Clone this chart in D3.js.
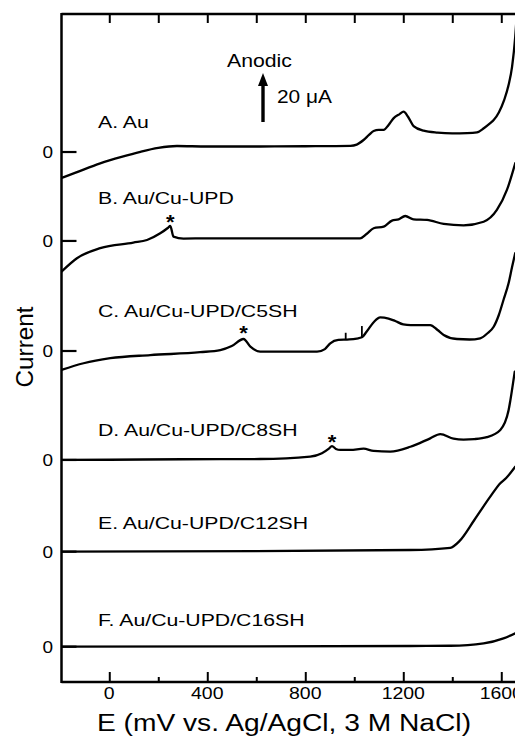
<!DOCTYPE html>
<html>
<head>
<meta charset="utf-8">
<script src="https://cdn.jsdelivr.net/npm/d3@7"></script>
<style>
  html, body { margin: 0; padding: 0; background: #fff; }
  svg { display: block; }
  text { font-family: "Liberation Sans", Arial, Helvetica, sans-serif; fill: #000; }
</style>
</head>
<body>
<div id="chart"></div>
<script>
// ---------------- DATA ----------------
const curveNames = ["A. Au", "B. Au/Cu-UPD", "C. Au/Cu-UPD/C5SH", "D. Au/Cu-UPD/C8SH", "E. Au/Cu-UPD/C12SH", "F. Au/Cu-UPD/C16SH"];
// zero-current level of each trace on the stacked current axis (µA)
const baselines = [220.8, 183.75, 137.9, 92.5, 54.3, 14.7];

// potentials (mV) and currents (µA, relative to each trace's zero)
const potA = [-195, -140, -37, 50, 127, 200, 276, 400, 616, 800, 984, 1010, 1038, 1060, 1079, 1100, 1120, 1140, 1160, 1185, 1201, 1220, 1242, 1283, 1340, 1400, 1460, 1501, 1530, 1555, 1569, 1590, 1612, 1630, 1644, 1657, 1664];
const curA = [-10.8, -8.7, -4.7, -2, 0.1, 1.7, 2.5, 2.3, 2.3, 2.4, 2.6, 3.1, 5, 7.1, 8.75, 9.2, 9.2, 11.25, 14, 15.8, 16.8, 14.6, 10.8, 8.9, 8.1, 7.8, 7.9, 8.2, 10, 12, 13.3, 16.5, 21.7, 28, 35.5, 48, 58];

const potB = [-195, -132, -37, 98, 154, 208, 240, 249, 262, 303, 400, 616, 1024, 1050, 1079, 1120, 1154, 1181, 1208, 1242, 1297, 1365, 1446, 1528, 1582, 1623, 1657];
const curB = [-12.8, -7.2, -3, -0.7, 0.4, 3.2, 5.5, 6.25, 1.8, 1, 1.1, 1.1, 1.1, 2.9, 5.3, 6, 8.5, 9, 10.4, 9, 8.75, 7.1, 6.5, 8, 12.9, 21.25, 32.4];

const potC = [-195, -105, 4, 167, 371, 453, 500, 548, 576, 616, 848, 880, 902, 935, 980, 1010, 1031, 1050, 1080, 1106, 1140, 1167, 1200, 1230, 1310, 1340, 1365, 1419, 1470, 1514, 1545, 1569, 1590, 1609, 1630, 1644, 1657];
const curC = [-7.9, -5.1, -3, -1.7, -0.5, 0.4, 2.1, 5, 1.8, -0.3, -0.3, 0.8, 3.2, 4.6, 4.8, 5.2, 5.7, 8, 12.1, 14, 13.5, 12.5, 11.1, 10.8, 10.8, 8.75, 6.7, 5, 4.8, 5.3, 7.5, 10.1, 15, 21.25, 28.3, 35, 40.8];
// small spikes on trace C: potential, top current
const spikeC_pot = [965, 1031];
const spikeC_top = [7.6, 10.4];

const potD = [-195, 0, 300, 616, 820, 868, 895, 909, 925, 943, 984, 1038, 1079, 1147, 1229, 1310, 1351, 1405, 1446, 1490, 1541, 1596, 1630, 1648, 1655];
const curD = [0, 0.1, 0.3, 0.4, 1.4, 2.8, 4.6, 5.8, 4.6, 4.2, 4.2, 4.7, 3.75, 3.5, 5.5, 9, 10.8, 8.9, 8.5, 8.7, 9.5, 12.5, 20.8, 32, 36.8];

const potE = [-195, 600, 1229, 1392, 1430, 1490, 1555, 1596, 1620, 1657];
const curE = [0, 0.2, 0.7, 1.6, 4.5, 13.2, 22.9, 28.5, 30.7, 35.4];

const potF = [-195, 1229, 1392, 1528, 1609, 1657];
const curF = [0, 0.3, 0.4, 1.4, 3.5, 5.6];

// asterisk marks: trace index, potential, current
const starTrace = [1, 2, 3];
const starPot = [249, 548, 909];
const starCur = [9.5, 9, 9];

const xMajorTicks = [0, 400, 800, 1200, 1600];
const xMinorTicks = [200, 600, 1000, 1400];
const xTickLabels = ["0", "400", "800", "1200", "1600"];
const scaleBarUA = 20;

const traces = [
  {pot: potA, cur: curA}, {pot: potB, cur: curB}, {pot: potC, cur: curC},
  {pot: potD, cur: curD}, {pot: potE, cur: curE}, {pot: potF, cur: curF}
];

// ---------------- LAYOUT ----------------
const W = 515, H = 736;
const pL = 61.5, pT = 14, pB = 682;
const x = d3.scaleLinear().domain([-195, 1700]).range([pL, pL + 1895 * 0.245]);
const y = d3.scaleLinear().domain([0, 278.3]).range([pB, pT]);

const svg = d3.select("#chart").append("svg").attr("width", W).attr("height", H);
svg.append("rect").attr("width", W).attr("height", H).attr("fill", "#fff");

function txt(px, py, s, size, anchor, sx) {
  return svg.append("text")
    .attr("transform", `translate(${px},${py}) scale(${sx},1)`)
    .attr("text-anchor", anchor)
    .style("font-size", size + "px")
    .text(s);
}

// axes frame
const axisW = 2.5;
svg.append("line").attr("x1", pL).attr("x2", pL).attr("y1", pT - 1).attr("y2", pB + 1)
  .attr("stroke", "#000").attr("stroke-width", axisW);
svg.append("line").attr("x1", pL).attr("x2", W + 5).attr("y1", pT).attr("y2", pT)
  .attr("stroke", "#000").attr("stroke-width", axisW);
svg.append("line").attr("x1", pL).attr("x2", W + 5).attr("y1", pB).attr("y2", pB)
  .attr("stroke", "#000").attr("stroke-width", axisW);

// bottom ticks (inward)
const bottomAxis = d3.axisTop(x).tickValues(xMajorTicks).tickSize(10).tickFormat("");
const gb = svg.append("g").attr("transform", `translate(0,${pB})`).call(bottomAxis);
gb.select(".domain").remove();
gb.selectAll("line").attr("stroke", "#000").attr("stroke-width", 2);
const bottomMinor = d3.axisTop(x).tickValues(xMinorTicks).tickSize(5).tickFormat("");
const gbm = svg.append("g").attr("transform", `translate(0,${pB})`).call(bottomMinor);
gbm.select(".domain").remove();
gbm.selectAll("line").attr("stroke", "#000").attr("stroke-width", 2);

// top ticks (inward)
const topAxis = d3.axisBottom(x).tickValues(xMajorTicks.concat(xMinorTicks)).tickSize(9).tickFormat("");
const gt = svg.append("g").attr("transform", `translate(0,${pT})`).call(topAxis);
gt.select(".domain").remove();
gt.selectAll("line").attr("stroke", "#000").attr("stroke-width", 2);

// x tick labels
xMajorTicks.forEach((v, i) => txt(x(v), 699, xTickLabels[i], 16.5, "middle", 1.18));

// y zero ticks and labels
baselines.forEach(b => {
  svg.append("line").attr("x1", pL).attr("x2", pL + 15).attr("y1", y(b)).attr("y2", y(b))
    .attr("stroke", "#000").attr("stroke-width", 2.2);
  txt(53, y(b) + 6, "0", 16.5, "end", 1.15);
});

// axis titles
txt(284, 731, "E (mV vs. Ag/AgCl, 3 M NaCl)", 24.5, "middle", 1.15);
svg.append("text")
  .attr("transform", `translate(33,347) rotate(-90) scale(1.13,1.15)`)
  .attr("text-anchor", "middle").style("font-size", "21.5px").text("Current");

// traces
const line = d3.line().curve(d3.curveMonotoneX);
svg.append("clipPath").attr("id", "plotclip").append("rect")
  .attr("x", pL).attr("y", 0).attr("width", W - pL).attr("height", pB);
const plot = svg.append("g").attr("clip-path", "url(#plotclip)");
traces.forEach((t, k) => {
  const pts = t.pot.map((p, i) => [x(p), y(baselines[k] + t.cur[i])]);
  plot.append("path").attr("d", line(pts)).attr("fill", "none")
    .attr("stroke", "#000").attr("stroke-width", 2.3).attr("stroke-linejoin", "round").attr("stroke-linecap", "round");
});

// spikes on trace C
spikeC_pot.forEach((p, i) => {
  const base = d3.scaleLinear().domain(potC).range(curC)(p);
  plot.append("line").attr("x1", x(p)).attr("x2", x(p))
    .attr("y1", y(baselines[2] + base)).attr("y2", y(baselines[2] + spikeC_top[i]))
    .attr("stroke", "#000").attr("stroke-width", 1.8);
});

// trace labels
const labelBase = [128, 204, 317, 436, 529, 626];
curveNames.forEach((n, i) => txt(98, labelBase[i], n, 17, "start", 1.25));

// asterisks
starTrace.forEach((k, i) => {
  txt(x(starPot[i]), y(baselines[k] + starCur[i]) + 11, "*", 20, "middle", 1.1)
    .style("font-weight", "bold");
});

// scale bar arrow
const arrowX = 263, arrowBottom = 122;
const arrowTop = arrowBottom - (y(0) - y(scaleBarUA));
svg.append("line").attr("x1", arrowX).attr("x2", arrowX).attr("y1", arrowBottom).attr("y2", arrowTop + 10)
  .attr("stroke", "#000").attr("stroke-width", 3.4);
svg.append("path").attr("d", `M${arrowX},${arrowTop - 1} L${arrowX - 5},${arrowTop + 12} L${arrowX + 5},${arrowTop + 12} Z`).attr("fill", "#000");
txt(227, 67, "Anodic", 18, "start", 1.18);
txt(277, 103, "20 \u03bcA", 18, "start", 1.16);
</script>
</body>
</html>
